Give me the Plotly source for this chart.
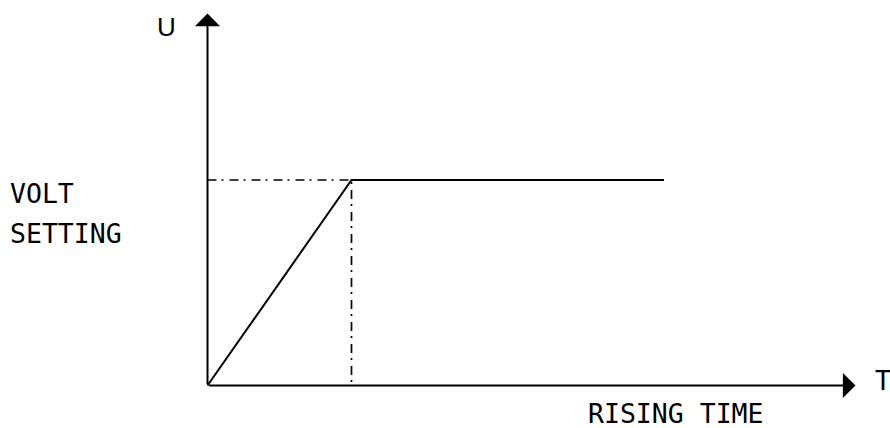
import plotly.graph_objects as go

# Data (time in rising-time units, voltage in setting units)
t_curve = [0.0, 1.0, 3.17]
u_curve = [0.0, 1.0, 1.0]
t_rise = 1.0
u_set = 1.0
t_axis_end = 4.50
u_axis_end = 1.81

labels = {
    "u": "U",
    "t": "T",
    "volt": "VOLT",
    "setting": "SETTING",
    "rise": "RISING TIME",
}

W, H = 890, 428
fig = go.Figure()

# dash-dot guide lines
fig.add_trace(go.Scatter(x=[0, t_rise, t_rise], y=[u_set, u_set, 0], mode="lines",
                         line=dict(color="black", width=1.7, dash="9px,5px,2px,6px"),
                         hoverinfo="skip", showlegend=False))
# voltage curve
fig.add_trace(go.Scatter(x=t_curve, y=u_curve, mode="lines",
                         line=dict(color="black", width=2),
                         hoverinfo="skip", showlegend=False))

# axes with arrows
for (x1, y1) in [(t_axis_end, 0), (0, u_axis_end)]:
    fig.add_annotation(x=x1, y=y1, ax=0, ay=0, xref="x", yref="y", axref="x", ayref="y",
                       text="", showarrow=True, arrowhead=1, arrowsize=2.1, arrowwidth=2,
                       arrowcolor="black", standoff=0, startstandoff=0)

mono = "DejaVu Sans Mono"
fs = 26.5
fig.add_annotation(x=155 / W, y=1 - 27 / H, xref="paper", yref="paper", text=labels["u"],
                   showarrow=False, xanchor="left", yanchor="middle",
                   font=dict(family="Liberation Sans", size=26, color="black"))
fig.add_annotation(x=873 / W, y=1 - 380 / H, xref="paper", yref="paper", text=labels["t"],
                   showarrow=False, xanchor="left", yanchor="middle",
                   font=dict(family=mono, size=fs, color="black"))
fig.add_annotation(x=8 / W, y=1 - 193 / H, xref="paper", yref="paper", text=labels["volt"],
                   showarrow=False, xanchor="left", yanchor="middle", align="left",
                   font=dict(family=mono, size=fs, color="black"))
fig.add_annotation(x=8 / W, y=1 - 233.5 / H, xref="paper", yref="paper", text=labels["setting"],
                   showarrow=False, xanchor="left", yanchor="middle", align="left",
                   font=dict(family=mono, size=fs, color="black"))
fig.add_annotation(x=586 / W, y=1 - 413 / H, xref="paper", yref="paper", text=labels["rise"],
                   showarrow=False, xanchor="left", yanchor="middle",
                   font=dict(family=mono, size=fs, color="black"))

px_per_t = 144.0
px_per_u = 205.5
x0_px, y0_px = 207.5, 385.5
fig.update_xaxes(visible=False, range=[-x0_px / px_per_t, (W - x0_px) / px_per_t])
fig.update_yaxes(visible=False, range=[-(H - y0_px) / px_per_u, y0_px / px_per_u])
fig.update_layout(width=W, height=H, margin=dict(l=0, r=0, t=0, b=0),
                  plot_bgcolor="white", paper_bgcolor="white", showlegend=False)

fig.write_html("out.html", config={"displayModeBar": False},
               post_script="document.body.style.margin='0';document.body.style.padding='0';"
                           "document.body.style.overflow='hidden';")
